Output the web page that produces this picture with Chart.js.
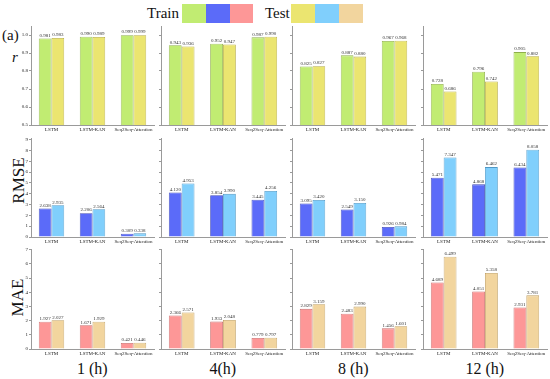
<!DOCTYPE html>
<html>
<head>
<meta charset="utf-8">
<script src="https://cdn.jsdelivr.net/npm/chart.js@4"></script>
<style>
  html, body { margin:0; padding:0; background:#fff; }
  #wrap { position:relative; width:550px; height:379px; overflow:hidden; font-family:'Liberation Serif', serif; color:#111; }
  canvas { position:absolute; }
  .t { position:absolute; white-space:nowrap; line-height:1; }
  .box { position:absolute; }
</style>
</head>
<body>
<div id="wrap"></div>
<script>
// ---------- DATA ----------
const categories = ['LSTM', 'LSTM-KAN', 'Seq2Seq-Attention'];
const horizons = ['1 (h)', '4(h)', '8 (h)', '12 (h)'];
const metrics = ['r', 'RMSE', 'MAE'];
// values per horizon: [LSTM, LSTM-KAN, Seq2Seq-Attention]
const rTrain = [[0.981, 0.990, 0.999], [0.943, 0.952, 0.987], [0.825, 0.887, 0.967], [0.728, 0.796, 0.905]];
const rTest  = [[0.983, 0.989, 0.999], [0.936, 0.947, 0.990], [0.827, 0.880, 0.968], [0.686, 0.742, 0.882]];
const rmseTrain = [[2.638, 2.206, 0.309], [4.120, 3.854, 3.445], [3.095, 2.549, 0.926], [5.471, 4.868, 6.434]];
const rmseTest  = [[2.935, 2.564, 0.338], [4.953, 3.990, 4.256], [3.420, 3.150, 0.984], [7.347, 6.462, 8.058]];
const maeTrain = [[1.927, 1.671, 0.421], [2.366, 1.933, 0.779], [2.829, 2.483, 1.456], [4.689, 4.051, 2.931]];
const maeTest  = [[2.027, 1.929, 0.446], [2.571, 2.048, 0.797], [3.159, 2.990, 1.601], [6.499, 5.358, 3.781]];
const yMin = [0.5, 0, 0];
const yMax = [1.05, 9.15, 7.05];
const yStep = [0.1, 1, 1];

// ---------- STYLE ----------
const trainFill = ['#c1ec72', '#5b6bf9', '#fd9797'];
const trainBorder = ['#8fae4c', '#3e48b5', '#c86c6c'];
const testFill = ['#ebe570', '#80cffc', '#f2d59e'];
const testBorder = ['#b5ab40', '#4f98c6', '#bf9f62'];
const plotLeft = [31, 161, 292, 423];
const plotRight = [154, 285, 415, 547];
const plotTop = [26, 138, 249];
const plotBottom = [125, 237, 349];

Chart.defaults.font.family = "'Liberation Serif', 'DejaVu Serif', serif";
Chart.defaults.color = '#222';

const wrap = document.getElementById('wrap');
function addText(txt, x, y, size, extra) {
  const d = document.createElement('div');
  d.className = 't';
  d.textContent = txt;
  d.style.left = x + 'px';
  d.style.top = y + 'px';
  d.style.fontSize = size + 'px';
  if (extra) Object.assign(d.style, extra);
  wrap.appendChild(d);
  return d;
}
function addBox(x, y, w, h, c) {
  const d = document.createElement('div');
  d.className = 'box';
  Object.assign(d.style, { left: x + 'px', top: y + 'px', width: w + 'px', height: h + 'px', background: c });
  wrap.appendChild(d);
}

// legend
addText('Train', 147, 6, 15);
addBox(182, 4, 24, 19, trainFill[0]);
addBox(206, 4, 24, 19, trainFill[1]);
addBox(230, 4, 23, 19, trainFill[2]);
addText('Test', 265, 6, 15);
addBox(291, 4, 24, 19, testFill[0]);
addBox(315, 4, 24, 19, testFill[1]);
addBox(339, 4, 24, 19, testFill[2]);
addText('(a)', 2, 28, 15);

// row labels
addText('r', 12, 50, 15, { fontStyle: 'italic' });
const rm = addText('RMSE', 0, 0, 17, { transformOrigin: 'center center' });
rm.style.left = (18 - rm.offsetWidth / 2) + 'px';
rm.style.top = (180 - rm.offsetHeight / 2) + 'px';
rm.style.transform = 'rotate(-90deg)';
const ma = addText('MAE', 0, 0, 17, { transformOrigin: 'center center' });
ma.style.left = (18 - ma.offsetWidth / 2) + 'px';
ma.style.top = (297 - ma.offsetHeight / 2) + 'px';
ma.style.transform = 'rotate(-90deg)';

// column titles
horizons.forEach((h, c) => {
  const d = addText(h, 0, 361, 16);
  d.style.left = ((plotLeft[c] + plotRight[c]) / 2 - d.offsetWidth / 2) + 'px';
});

const valueLabels = {
  id: 'valueLabels',
  afterDatasetsDraw(chart) {
    const ctx = chart.ctx;
    ctx.save();
    ctx.font = "5px 'Liberation Serif', serif";
    ctx.fillStyle = '#333';
    ctx.textAlign = 'center';
    ctx.textBaseline = 'bottom';
    chart.data.datasets.forEach((ds, i) => {
      chart.getDatasetMeta(i).data.forEach((bar, j) => {
        ctx.fillText(ds.data[j].toFixed(3), bar.x, bar.y - 0.5);
      });
    });
    ctx.restore();
  }
};

const trainSets = [rTrain, rmseTrain, maeTrain];
const testSets = [rTest, rmseTest, maeTest];
const padTop = 6, yAxisW = 20, xAxisH = 12, padRight = 2;

for (let r = 0; r < 3; r++) {
  for (let c = 0; c < 4; c++) {
    const cv = document.createElement('canvas');
    const w = plotRight[c] - plotLeft[c] + yAxisW + padRight;
    const h = plotBottom[r] - plotTop[r] + padTop + xAxisH;
    cv.width = w; cv.height = h;
    cv.style.width = w + 'px'; cv.style.height = h + 'px';
    cv.style.left = (plotLeft[c] - yAxisW) + 'px';
    cv.style.top = (plotTop[r] - padTop) + 'px';
    wrap.appendChild(cv);
    new Chart(cv, {
      type: 'bar',
      data: {
        labels: categories,
        datasets: [
          { label: 'Train', data: trainSets[r][c], backgroundColor: trainFill[r], borderColor: trainBorder[r], borderWidth: 0.8 },
          { label: 'Test', data: testSets[r][c], backgroundColor: testFill[r], borderColor: testBorder[r], borderWidth: 0.8 }
        ]
      },
      options: {
        responsive: false,
        animation: false,
        devicePixelRatio: 1,
        layout: { padding: { top: padTop, right: padRight, left: 0, bottom: 0 } },
        plugins: { legend: { display: false }, tooltip: { enabled: false } },
        datasets: { bar: { categoryPercentage: 0.62, barPercentage: 1.0 } },
        scales: {
          x: {
            grid: { display: false, drawTicks: false, tickLength: 0 },
            border: { display: true, color: '#9a9a9a', width: 1 },
            ticks: { font: { size: 5 }, padding: 2, maxRotation: 0, minRotation: 0, autoSkip: false, color: '#222' },
            afterFit(s) { s.height = xAxisH; }
          },
          y: {
            min: yMin[r], max: yMax[r],
            grid: { display: true, drawOnChartArea: false, drawTicks: true, tickLength: 2, color: '#9a9a9a' },
            border: { display: true, color: '#9a9a9a', width: 1 },
            ticks: {
              stepSize: yStep[r], includeBounds: false, font: { size: 5 }, padding: 1, color: '#222',
              callback: (v) => c === 0 ? (r === 0 ? Number(v).toFixed(1) : String(Math.round(v))) : ''
            },
            afterFit(s) { s.width = yAxisW; }
          }
        }
      },
      plugins: [valueLabels]
    });
  }
}
</script>
</body>
</html>
